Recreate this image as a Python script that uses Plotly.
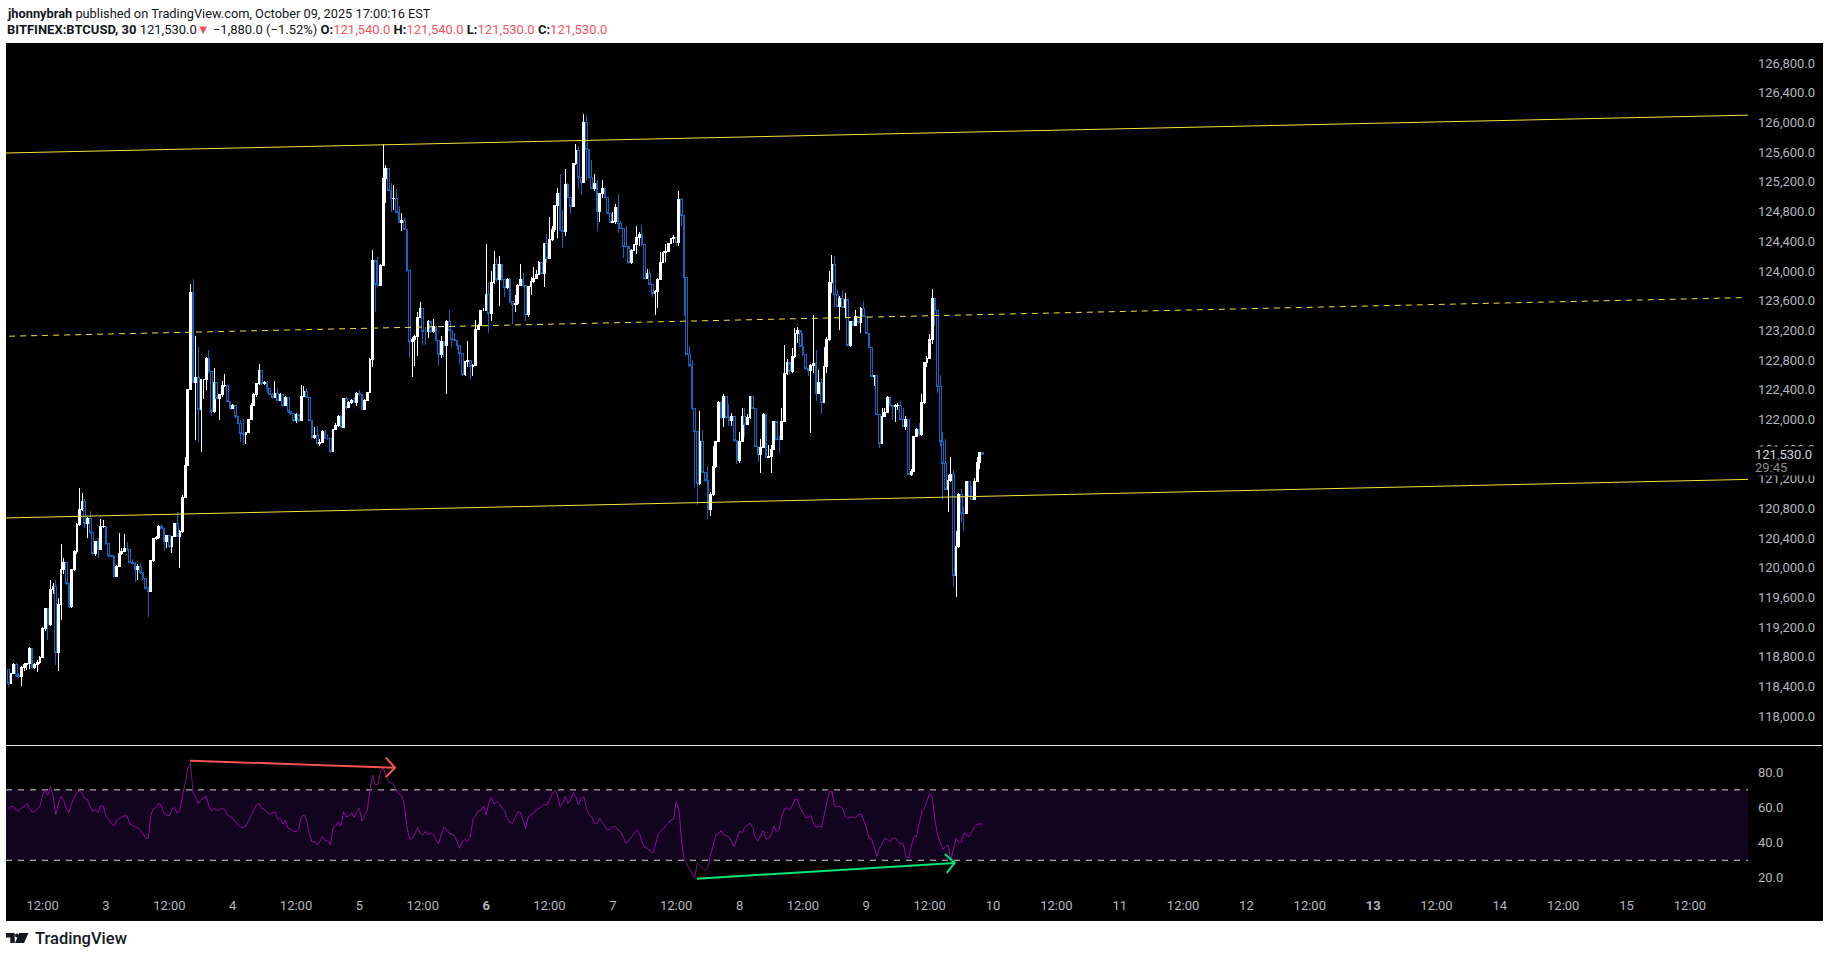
#!/usr/bin/env python3
"""BITFINEX:BTCUSD 30 minute chart with RSI pane, TradingView snapshot style."""

import plotly.graph_objects as go

W, H = 1829, 957

# price bars, one every 30 minutes; each bar opens on the previous close
FIRST_OPEN = 118630
CLOSES = [
    118440, 118570, 118700, 118550, 118530, 118660, 118700, 118710, 118910, 118660,
    118700, 118720, 118790, 119180, 119450, 119230, 119700, 119740, 118850, 119500,
    119970, 120070, 119780, 119470, 119970, 120220, 120580, 120780, 120890, 120590,
    120660, 120480, 120190, 120350, 120240, 120550, 120560, 120320, 120160, 120150,
    119880, 120020, 120190, 120220, 120260, 120240, 120070, 120060, 119970, 120010,
    119940, 119860, 119720, 119680, 120090, 120390, 120410, 120560, 120530, 120350,
    120430, 120280, 120420, 120590, 120420, 120490, 120950, 121380, 122400, 123710,
    122490, 122570, 122130, 122540, 122540, 122820, 122640, 122100, 122500, 122280,
    122330, 122460, 122460, 122240, 122150, 122180, 122040, 121950, 121810, 121790,
    121820, 122000, 122190, 122340, 122480, 122660, 122480, 122500, 122420, 122340,
    122300, 122350, 122260, 122340, 122180, 122300, 122100, 122080, 121980, 122070,
    121990, 122310, 122370, 122300, 121990, 121760, 121780, 121670, 121690, 121840,
    121740, 121740, 121560, 121860, 121920, 122040, 121890, 122280, 122160, 122220,
    122260, 122230, 122350, 122340, 122130, 122250, 122360, 122810, 124140, 123820,
    123810, 124080, 125250, 125380, 125090, 124970, 124980, 124790, 124650, 124680,
    124560, 124000, 123050, 123070, 123120, 123370, 123500, 123180, 123180, 123320,
    123180, 123250, 123060, 122880, 123050, 122990, 123320, 123200, 123080, 123060,
    123000, 122890, 122600, 122780, 122790, 122710, 122730, 123210, 123270, 123470,
    123470, 123680, 123430, 123840, 124090, 123880, 124090, 123880, 123780, 123880,
    123590, 123550, 123560, 123810, 123880, 123800, 123410, 123790, 123860, 123900,
    123950, 124120, 123970, 124370, 124170, 124420, 124560, 124880, 125050, 124550,
    124530, 125170, 124990, 124870, 125450, 125620, 125260, 125190, 126000, 125640,
    125260, 125110, 125180, 124800, 125040, 125110, 124990, 124780, 124650, 124660,
    124860, 124640, 124570, 124330, 124330, 124110, 124280, 124350, 124450, 124490,
    124350, 123900, 123960, 123820, 123700, 123720, 123890, 124120, 124250, 124260,
    124370, 124440, 124450, 124390, 124960, 124750, 123910, 122880, 122720, 122150,
    121830, 121130, 121700, 121280, 121180, 120790, 120980, 121360, 121700, 122230,
    122030, 122310, 122030, 121990, 122040, 121710, 121440, 121700, 122040, 121930,
    122030, 122310, 122150, 121630, 121530, 121620, 122070, 121490, 121500, 121590,
    121970, 121730, 121730, 121970, 122620, 122770, 122640, 122840, 123150, 123200,
    122980, 122870, 122690, 122660, 122720, 122750, 122350, 122500, 122220, 122710,
    123080, 123840, 124090, 123680, 123520, 123630, 123510, 123610, 123000, 123320,
    123270, 123390, 123300, 123500, 123390, 123160, 122970, 122580, 122590, 122070,
    121680, 122040, 122090, 122300, 122190, 122170, 122180, 122190, 122000, 121900,
    122000, 121260, 121300, 121770, 121860, 121790, 122220, 122760, 122820, 123080,
    123630, 123470, 122440, 121700, 121410, 121060, 121180, 121250, 119900, 120280,
    120990, 120730, 120730, 121160, 120960, 120920, 121160, 121420, 121550, 121530,
]
HIGHS = [
    118640, 118580, 118720, 118710, 118580, 118670, 118710, 118720, 118930, 118920,
    118720, 118760, 118810, 119200, 119460, 119460, 119840, 119790, 119830, 119590,
    120320, 120130, 120070, 119780, 119980, 120240, 120600, 121080, 121010, 120930,
    120680, 120760, 120480, 120360, 120400, 120650, 120640, 120560, 120320, 120170,
    120170, 120040, 120470, 120260, 120460, 120340, 120240, 120110, 120070, 120050,
    120060, 119940, 119860, 119740, 120090, 120400, 120420, 120570, 120590, 120530,
    120440, 120430, 120430, 120600, 120750, 120510, 120980, 121490, 122400, 123820,
    123890, 123120, 122970, 122550, 122550, 122840, 122930, 122640, 122690, 122490,
    122340, 122520, 122610, 122460, 122240, 122210, 122180, 122040, 121990, 122000,
    121830, 122010, 122220, 122350, 122490, 122750, 122660, 122520, 122510, 122420,
    122360, 122520, 122420, 122360, 122340, 122310, 122300, 122100, 122080, 122080,
    122040, 122460, 122450, 122420, 122300, 121980, 121900, 121910, 121730, 121850,
    121860, 121800, 121740, 121860, 121950, 122060, 122060, 122290, 122300, 122240,
    122270, 122300, 122370, 122390, 122340, 122270, 122370, 122820, 124280, 124120,
    124190, 124090, 125710, 125430, 125380, 125190, 125160, 125100, 124880, 124780,
    124710, 124570, 124000, 123110, 123140, 123450, 123580, 123500, 123250, 123340,
    123300, 123350, 123250, 123060, 123120, 123050, 123340, 123480, 123200, 123170,
    123070, 123000, 122890, 122790, 123060, 122800, 122750, 123340, 123280, 123480,
    123500, 124370, 123850, 124000, 124270, 124170, 124200, 124090, 123880, 123900,
    123900, 123590, 123680, 123820, 124090, 123970, 123800, 123800, 123920, 124050,
    124010, 124130, 124120, 124380, 124500, 124730, 124600, 124890, 125120, 125310,
    124820, 125380, 125190, 124990, 125460, 125710, 125680, 125260, 126110, 126100,
    125640, 125500, 125310, 125230, 125050, 125230, 125110, 125000, 124780, 124800,
    124900, 125040, 124680, 124570, 124600, 124300, 124290, 124360, 124610, 124520,
    124620, 124350, 124020, 124010, 123830, 123740, 123900, 124260, 124270, 124360,
    124380, 124450, 124480, 124450, 125080, 124990, 124750, 123910, 122990, 122800,
    122150, 121830, 122110, 121850, 121280, 121370, 121020, 121640, 121710, 122240,
    122250, 122340, 122300, 122210, 122080, 122030, 121720, 121830, 122150, 122150,
    122070, 122310, 122320, 122150, 121630, 121740, 122080, 122030, 121650, 121650,
    121980, 121950, 121770, 122150, 123000, 122810, 122730, 122960, 123230, 123240,
    123170, 123160, 122870, 122690, 122740, 123410, 122930, 122670, 122540, 122980,
    123110, 124000, 124220, 124200, 123740, 123660, 123740, 123700, 123600, 123330,
    123320, 123470, 123380, 123510, 123590, 123390, 123160, 122970, 122600, 122590,
    122060, 122150, 122150, 122310, 122260, 122190, 122210, 122220, 122250, 122150,
    122040, 122000, 121330, 121780, 121880, 121950, 122340, 122770, 122850, 123150,
    123760, 123630, 123470, 122600, 121830, 121740, 121250, 121490, 121320, 120500,
    121000, 121060, 120820, 121170, 121160, 121100, 121210, 121490, 121560, 121550,
]
LOWS = [
    118390, 118430, 118560, 118530, 118510, 118400, 118610, 118620, 118640, 118640,
    118640, 118590, 118700, 118780, 119140, 119020, 119210, 119650, 118690, 118610,
    119290, 119920, 119770, 119460, 119450, 119960, 120190, 120560, 120770, 120540,
    120400, 120460, 120170, 120160, 120130, 120240, 120540, 120310, 120150, 120140,
    119870, 119880, 120010, 120170, 120210, 120220, 120060, 120040, 119810, 119840,
    119920, 119840, 119710, 119340, 119670, 120080, 120370, 120390, 120520, 120220,
    120260, 120270, 120200, 120410, 120410, 120000, 120470, 120960, 121400, 122390,
    122490, 121720, 121700, 121560, 122270, 122400, 122630, 122040, 122090, 122300,
    121990, 122300, 122440, 122230, 122130, 122160, 122020, 121930, 121690, 121650,
    121670, 121810, 121990, 122190, 122300, 122460, 122460, 122460, 122350, 122330,
    122280, 122290, 122250, 122240, 122170, 122180, 122090, 122060, 121970, 121950,
    121970, 121990, 122300, 122290, 121980, 121740, 121730, 121650, 121640, 121690,
    121730, 121720, 121550, 121560, 121850, 121900, 121880, 121880, 122120, 122150,
    122210, 122220, 122180, 122310, 122120, 122120, 122240, 122350, 122710, 123440,
    123780, 123800, 124070, 124920, 125080, 124790, 124820, 124780, 124640, 124540,
    124550, 123990, 122820, 122570, 122720, 122850, 123360, 123000, 123000, 123100,
    123170, 123170, 123050, 122720, 122830, 122840, 122340, 123190, 122980, 123050,
    122930, 122750, 122580, 122590, 122710, 122550, 122580, 122720, 123200, 123260,
    123460, 123460, 123170, 123320, 123830, 123850, 123530, 123860, 123650, 123760,
    123570, 123280, 123440, 123540, 123800, 123780, 123320, 123380, 123680, 123840,
    123890, 123940, 123960, 123780, 124110, 124230, 124410, 124530, 124440, 124540,
    124310, 124470, 124980, 124770, 124860, 125430, 125110, 125040, 125180, 125230,
    125250, 125100, 125080, 124540, 124660, 124990, 124980, 124770, 124640, 124650,
    124630, 124510, 124560, 124170, 124320, 124100, 124100, 124270, 124230, 124340,
    124340, 123890, 123890, 123810, 123650, 123410, 123500, 123880, 124110, 124120,
    124250, 124360, 124380, 124340, 124340, 124610, 123390, 122870, 122710, 122130,
    121090, 120840, 121120, 121270, 121160, 120650, 120700, 120970, 121350, 121690,
    122010, 121890, 122010, 121910, 121910, 121700, 121400, 121410, 121690, 121760,
    121920, 122010, 122140, 121620, 121420, 121270, 121610, 121480, 121490, 121270,
    121580, 121720, 121550, 121720, 121960, 122600, 122600, 122630, 122830, 123030,
    122970, 122860, 122670, 122580, 121810, 122630, 122240, 122350, 122070, 122220,
    122620, 123060, 123700, 123520, 123510, 123210, 123500, 123360, 122990, 122970,
    123260, 123260, 123290, 123170, 123380, 123150, 122960, 122580, 122450, 122060,
    121610, 121670, 122030, 122080, 122180, 121990, 121970, 122130, 121990, 121890,
    121860, 121250, 121230, 121290, 121760, 121780, 121780, 122210, 122710, 122810,
    123020, 123260, 122350, 121630, 120910, 121050, 120750, 121150, 119750, 119600,
    120270, 120620, 120490, 120720, 120950, 120910, 120910, 121150, 121330, 121520,
]

RSI = [
    58.9, 60.5, 60.5, 58.2, 58.2, 59.9, 60.5, 62.4, 59.5, 57.4,
    57.8, 58.9, 60.5, 67.1, 69.9, 67.1, 71.8, 66.2, 55.7, 62.4,
    66.2, 63.9, 59.5, 57.1, 62.4, 65.8, 68.4, 69.4, 68.0, 65.2,
    64.6, 60.5, 57.6, 58.6, 57.1, 61.0, 60.5, 55.2, 53.6, 51.0,
    49.5, 52.5, 53.8, 54.8, 55.2, 55.2, 50.6, 49.5, 48.9, 48.7,
    47.2, 45.3, 42.5, 42.5, 55.7, 59.5, 59.9, 62.4, 60.8, 56.7,
    55.7, 55.2, 58.9, 59.9, 56.7, 58.2, 67.1, 73.7, 82.3, 85.1,
    68.0, 65.8, 62.0, 64.6, 65.6, 66.2, 60.5, 58.2, 59.5, 58.2,
    58.6, 59.5, 58.9, 55.7, 54.8, 53.8, 52.0, 50.0, 48.7, 48.7,
    49.5, 52.5, 55.7, 58.6, 61.4, 62.4, 59.5, 59.1, 57.1, 56.1,
    56.7, 57.6, 53.3, 53.8, 50.6, 52.9, 48.2, 47.6, 46.3, 46.3,
    47.6, 54.8, 55.7, 52.9, 45.3, 40.6, 40.6, 38.7, 40.6, 43.4,
    41.1, 41.1, 38.7, 48.2, 49.5, 52.0, 49.5, 57.6, 54.8, 55.2,
    57.1, 54.4, 57.6, 59.5, 52.3, 55.2, 58.6, 69.9, 78.5, 72.8,
    73.2, 80.4, 82.3, 78.5, 74.7, 74.1, 72.8, 69.9, 67.7, 67.1,
    61.4, 49.1, 41.9, 42.3, 44.9, 48.7, 45.3, 44.4, 46.3, 44.4,
    45.3, 44.9, 41.5, 39.6, 43.8, 49.1, 47.6, 45.3, 44.9, 44.0,
    40.6, 36.8, 40.6, 41.9, 40.6, 43.4, 52.9, 55.2, 58.2, 58.2,
    60.8, 55.7, 62.4, 65.8, 62.0, 63.3, 62.4, 59.5, 58.2, 53.8,
    51.6, 51.0, 54.4, 57.6, 57.1, 52.0, 48.2, 54.8, 55.7, 56.7,
    58.6, 59.5, 60.5, 62.0, 61.4, 64.3, 67.7, 69.9, 67.1, 60.5,
    62.4, 66.2, 62.4, 64.3, 68.4, 66.2, 61.4, 65.2, 66.2, 59.5,
    55.7, 54.8, 51.0, 51.0, 53.8, 51.4, 49.5, 47.2, 47.6, 49.1,
    49.1, 47.2, 46.3, 43.0, 39.6, 41.0, 43.0, 45.3, 47.2, 45.7,
    40.6, 37.4, 36.8, 35.5, 34.0, 37.7, 44.4, 46.3, 47.6, 49.5,
    51.4, 52.9, 53.3, 63.3, 59.5, 41.5, 30.5, 27.9, 25.4, 23.0,
    20.1, 28.3, 27.3, 25.4, 24.1, 25.8, 33.0, 38.1, 44.4, 44.9,
    46.8, 44.4, 43.8, 43.4, 40.6, 37.7, 42.5, 46.5, 45.7, 48.7,
    50.1, 51.0, 48.7, 42.5, 41.1, 44.4, 46.8, 42.1, 42.3, 44.4,
    49.5, 46.3, 47.6, 54.8, 59.1, 59.9, 58.6, 61.4, 64.6, 64.6,
    59.5, 57.1, 54.4, 54.4, 55.4, 51.0, 48.7, 49.5, 48.7, 55.2,
    61.4, 69.0, 69.0, 60.8, 60.5, 60.8, 59.5, 55.2, 53.8, 54.4,
    54.4, 54.4, 55.7, 56.3, 52.9, 48.7, 42.5, 42.1, 37.7, 32.1,
    36.8, 39.3, 42.5, 41.9, 40.6, 42.5, 42.5, 40.6, 39.3, 39.6,
    32.1, 31.5, 37.7, 43.4, 43.4, 50.1, 57.6, 59.5, 63.3, 68.0,
    65.8, 52.9, 44.4, 39.6, 36.2, 37.7, 38.7, 30.2, 35.9, 42.5,
    40.4, 40.4, 45.3, 44.4, 43.4, 46.3, 49.1, 50.6, 50.6, 50.6,
]

# drawn trend channel, [left end, right end]
LINE_BARS = [-0.87, 659]
TOP_LINE = [125590, 126100]
BOTTOM_LINE = [120670, 121190]
MID_BARS = [0.3, 657.4]
MID_LINE = [123120, 123640]

# divergence arrows on the RSI pane: shaft, gap, arrow head
RED_BARS = [68.8, 146.5, None, 143, 146.5, 143]
RED_RSI = [86.6, 82.6, None, 88.3, 82.6, 77.3]
GREEN_BARS = [260.8, 358.5, None, 354.8, 358.5, 355.5]
GREEN_RSI = [19.5, 28.5, None, 33.6, 28.5, 22.8]

TIME_TICKS = [13 + 24 * k for k in range(27)]
TIME_LABELS = ["12:00", "3", "12:00", "4", "12:00", "5", "12:00", "<b>6</b>", "12:00",
               "7", "12:00", "8", "12:00", "9", "12:00", "10", "12:00", "11", "12:00",
               "12", "12:00", "<b>13</b>", "12:00", "14", "12:00", "15", "12:00"]
PRICE_TICKS = list(range(118000, 127200, 400))
RSI_TICKS = [20, 40, 60, 80]

FONT = "Roboto, sans-serif"
AXIS_TEXT = "#b2b5be"
YELLOW = "#f5e23b"
RED = "#f7525f"
INK = "#131722"

# candles look washed out when their 1px edges land between pixels
CRISP_CANDLES = """
document.body.style.margin = '0';
document.querySelectorAll('.boxlayer path').forEach(p => {
  p.style.shapeRendering = 'crispEdges';
});
"""


def px_x(x):
    return x / W


def px_y(y):
    return 1 - y / H


def text_note(x, y, text, size=12.8, color=INK, **kwargs):
    weight = kwargs.pop("weight", "normal")
    return dict(x=px_x(x), y=px_y(y), xref="paper", yref="paper", text=text,
                showarrow=False, xanchor="left", yanchor="middle",
                font=dict(family=FONT, size=size, color=color, weight=weight), **kwargs)


def poly(points):
    path = "M" + " L".join(f"{px_x(x):.5f},{px_y(y):.5f}" for x, y in points) + " Z"
    return dict(type="path", xref="paper", yref="paper", path=path,
                fillcolor=INK, line=dict(width=0), layer="above")


bars = list(range(len(CLOSES)))
opens = [FIRST_OPEN] + CLOSES[:-1]

fig = go.Figure()
fig.add_trace(go.Candlestick(
    x=bars, open=opens, high=HIGHS, low=LOWS, close=CLOSES,
    increasing=dict(line=dict(color="#ffffff", width=1), fillcolor="#ffffff"),
    decreasing=dict(line=dict(color="#1565c0", width=1), fillcolor="#000000"),
    whiskerwidth=0, showlegend=False, xaxis="x", yaxis="y",
))
for ys in (TOP_LINE, BOTTOM_LINE):
    fig.add_trace(go.Scatter(x=LINE_BARS, y=ys, mode="lines", showlegend=False,
                             line=dict(color=YELLOW, width=1), xaxis="x", yaxis="y"))
fig.add_trace(go.Scatter(x=MID_BARS, y=MID_LINE, mode="lines", showlegend=False,
                         line=dict(color=YELLOW, width=1, dash="6px,5px"), xaxis="x", yaxis="y"))

fig.add_trace(go.Scatter(x=bars, y=RSI, mode="lines", showlegend=False,
                         line=dict(color="#8a0f96", width=1), xaxis="x2", yaxis="y2"))
fig.add_trace(go.Scatter(x=RED_BARS, y=RED_RSI, mode="lines", showlegend=False,
                         line=dict(color="#ff5252", width=2), xaxis="x2", yaxis="y2"))
fig.add_trace(go.Scatter(x=GREEN_BARS, y=GREEN_RSI, mode="lines", showlegend=False,
                         line=dict(color="#00e676", width=2), xaxis="x2", yaxis="y2"))

shapes = [
    dict(type="rect", xref="paper", yref="paper", x0=px_x(6), x1=px_x(1823),
         y0=px_y(921), y1=px_y(43), fillcolor="#000000", line=dict(width=0), layer="below"),
    dict(type="rect", xref="x2", yref="y2", x0=LINE_BARS[0], x1=LINE_BARS[1], y0=30, y1=70,
         fillcolor="#12041f", line=dict(width=0), layer="below"),
    dict(type="line", xref="x2", yref="y2", x0=LINE_BARS[0], x1=LINE_BARS[1], y0=70, y1=70,
         line=dict(color="#d6d6d6", width=1, dash="6px,6px"), layer="below"),
    dict(type="line", xref="x2", yref="y2", x0=LINE_BARS[0], x1=LINE_BARS[1], y0=30, y1=30,
         line=dict(color="#d6d6d6", width=1, dash="6px,6px"), layer="below"),
    dict(type="line", xref="paper", yref="paper", x0=px_x(6), x1=px_x(1822),
         y0=px_y(745.5), y1=px_y(745.5), line=dict(color="#e8e8e8", width=1)),
    # TradingView mark: the T, the dot and the slanted stroke
    poly([(6, 933), (14.7, 933), (14.7, 943), (10.3, 943), (10.3, 937.5), (6, 937.5)]),
    poly([(19.3, 933), (28.5, 933), (24, 943), (15, 943)]),
    dict(type="circle", xref="paper", yref="paper", x0=px_x(15), x1=px_x(19),
         y0=px_y(937.4), y1=px_y(933.4), fillcolor=INK, line=dict(width=0), layer="above"),
]

red_value = f'<span style="color:{RED}">%s</span>'
header2 = ("<b>BITFINEX:BTCUSD, 30</b> 121,530.0"
           + red_value % "▼" + " −1,880.0 (−1.52%) "
           + "<b>O:</b>" + red_value % "121,540.0" + " <b>H:</b>" + red_value % "121,540.0"
           + " <b>L:</b>" + red_value % "121,530.0" + " <b>C:</b>" + red_value % "121,530.0")

annotations = [
    text_note(5, 13, "<b>jhonnybrah</b> published on TradingView.com, October 09, 2025 17:00:16 EST"),
    text_note(5, 30, header2, size=13),
    text_note(33, 938, "TradingView", size=16.5, weight=500),
    text_note(1754, 454, "121,530.0", size=13, color="#d1d4dc", bgcolor="#000000",
              width=66, height=15, align="left", borderpad=0),
    text_note(1754, 467.5, "29:45", size=13, color="#8a8a8a", bgcolor="#000000",
              width=66, height=15, align="left", borderpad=0),
]

fig.update_layout(
    width=W, height=H,
    margin=dict(l=0, r=0, t=0, b=0, pad=0),
    paper_bgcolor="#ffffff",
    plot_bgcolor="#000000",
    font=dict(family=FONT, size=13, color=AXIS_TEXT),
    showlegend=False,
    boxgap=0.05,
    hovermode=False,
    xaxis=dict(domain=[px_x(6), px_x(1748)], range=[LINE_BARS[0], LINE_BARS[1]],
               anchor="y", showgrid=False, zeroline=False, showticklabels=False,
               ticks="", rangeslider=dict(visible=False), showline=False),
    yaxis=dict(domain=[px_y(745), px_y(43)], range=[117609, 127073], side="right",
               anchor="x", tickvals=PRICE_TICKS, tickformat=",.1f", showgrid=False,
               zeroline=False, ticks="", ticklabelstandoff=9, showline=False,
               tickfont=dict(family=FONT, size=13, color=AXIS_TEXT)),
    xaxis2=dict(domain=[px_x(6), px_x(1748)], range=[LINE_BARS[0], LINE_BARS[1]],
                anchor="y2", matches="x", showgrid=False, zeroline=False,
                tickmode="array", tickvals=TIME_TICKS, ticktext=TIME_LABELS, tickangle=0,
                ticks="", ticklabelstandoff=6, showline=False,
                tickfont=dict(family=FONT, size=13, color=AXIS_TEXT)),
    yaxis2=dict(domain=[px_y(890), px_y(746)], range=[13.1, 94.94], side="right",
                anchor="x2", tickvals=RSI_TICKS, tickformat=".1f", showgrid=False,
                zeroline=False, ticks="", ticklabelstandoff=9, showline=False,
                tickfont=dict(family=FONT, size=13, color=AXIS_TEXT)),
    shapes=shapes,
    annotations=annotations,
)

fig.write_html("out.html", post_script=CRISP_CANDLES, config={"displayModeBar": False})
